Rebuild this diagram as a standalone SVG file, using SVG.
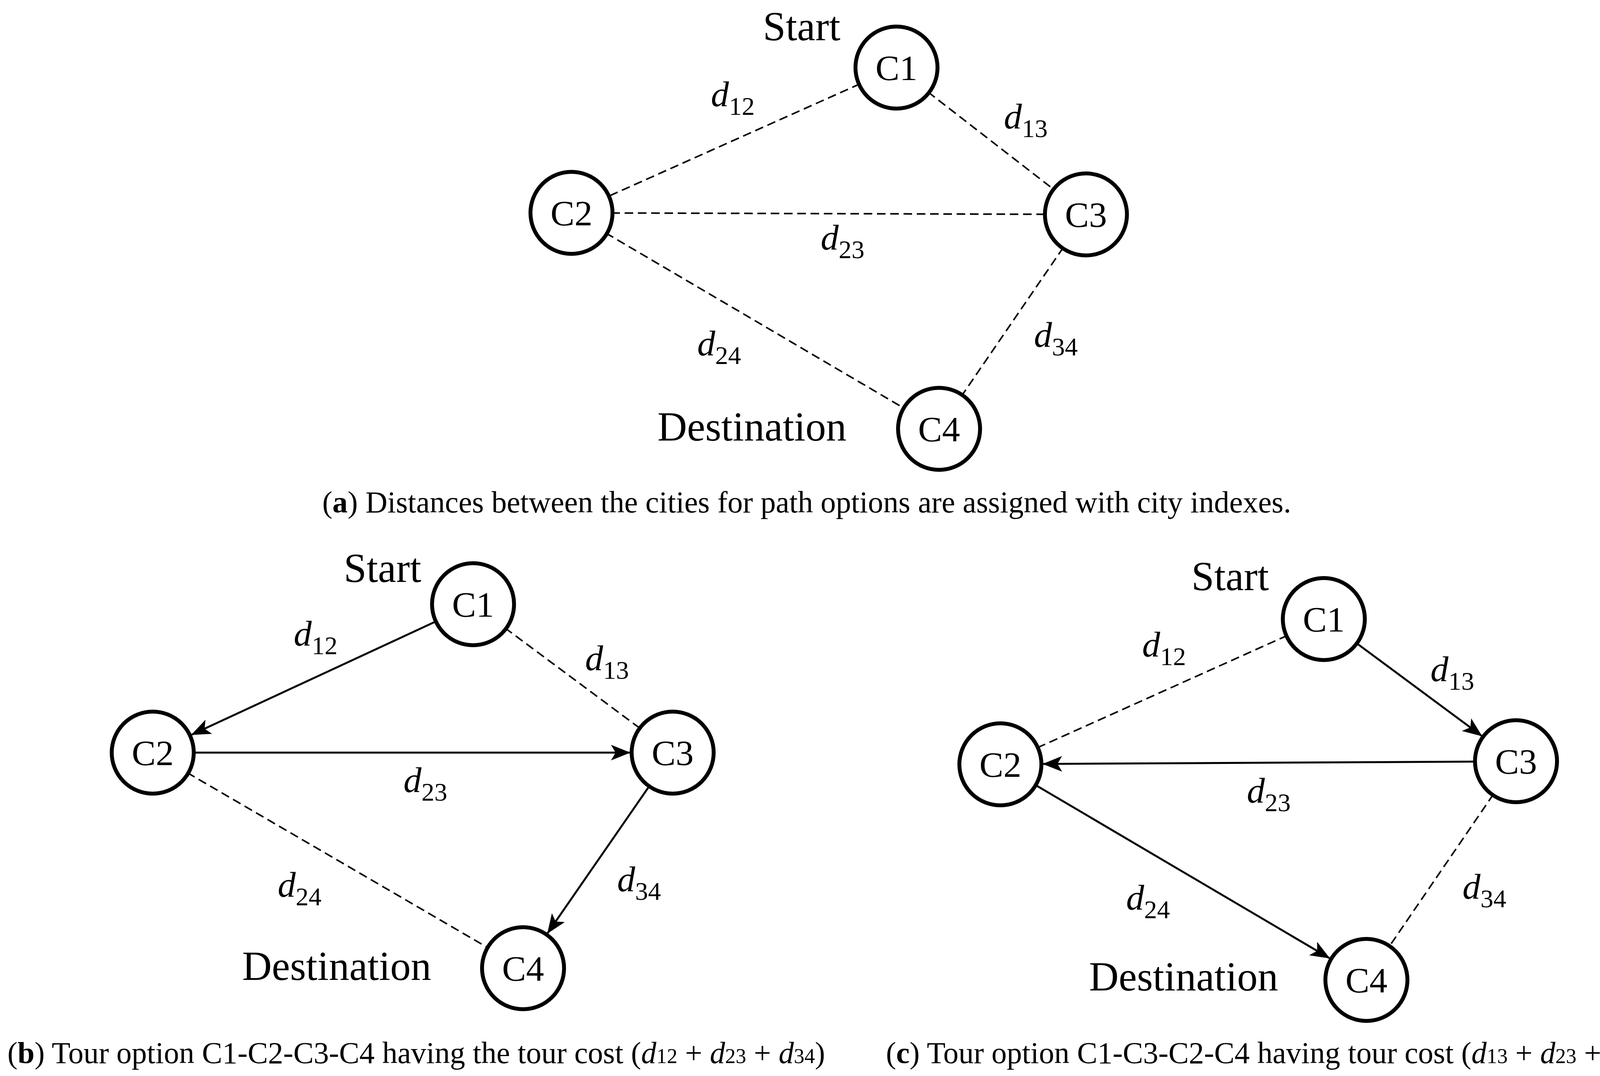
<svg xmlns="http://www.w3.org/2000/svg" width="4271" height="2755" viewBox="0 0 4271 2755">
<style>
.n{fill:#fff;stroke:#000;stroke-width:10}
.nt{font-family:"Liberation Serif",serif;font-size:92px;text-anchor:middle}
.lb{font-family:"Liberation Serif",serif;font-size:105px}
.d{font-family:"Liberation Serif",serif;font-size:92px;font-style:italic}
.s{font-style:normal;font-size:66px}
.cap{font-family:"Liberation Serif",serif;font-size:78px}
.dash{stroke:#000;stroke-width:4;stroke-dasharray:22 12;fill:none}
.sol{stroke:#000;stroke-width:5;fill:none;marker-end:url(#ah)}
</style>
<defs><marker id="ah" markerUnits="userSpaceOnUse" markerWidth="50" markerHeight="40" refX="48" refY="20" orient="auto"><path d="M0,0 L50,20 L0,40 L12,20 Z" fill="#000"/></marker></defs>
<g id="connectors">
<line class="dash" x1="2295" y1="173" x2="1463" y2="545"/>
<line class="dash" x1="2295" y1="173" x2="2780" y2="549"/>
<line class="dash" x1="1463" y1="545" x2="2780" y2="549"/>
<line class="dash" x1="1463" y1="545" x2="2404" y2="1098"/>
<line class="dash" x1="2780" y1="549" x2="2404" y2="1098"/>
<line class="sol" x1="1116" y1="1591" x2="491" y2="1881"/>
<line class="dash" x1="1211" y1="1547" x2="1722" y2="1927"/>
<line class="sol" x1="496" y1="1927" x2="1612" y2="1927"/>
<line class="sol" x1="1662" y1="2013" x2="1402" y2="2389"/>
<line class="dash" x1="391" y1="1927" x2="1339" y2="2479"/>
<line class="dash" x1="3389" y1="1585" x2="2561" y2="1957"/>
<line class="sol" x1="3473" y1="1647" x2="3793" y2="1884"/>
<line class="sol" x1="3776" y1="1950" x2="2671" y2="1956"/>
<line class="sol" x1="2651" y1="2010" x2="3403" y2="2453"/>
<line class="dash" x1="3881" y1="1949" x2="3498" y2="2509"/>
</g>
<g id="a_C1"><circle class="n" cx="2295" cy="173" r="105"/><text class="nt" x="2295" y="205">C1</text></g>
<g id="a_C2"><circle class="n" cx="1463" cy="545" r="105"/><text class="nt" x="1463" y="577">C2</text></g>
<g id="a_C3"><circle class="n" cx="2780" cy="549" r="105"/><text class="nt" x="2780" y="581">C3</text></g>
<g id="a_C4"><circle class="n" cx="2404" cy="1098" r="105"/><text class="nt" x="2404" y="1130">C4</text></g>
<g id="b_C1"><circle class="n" cx="1211" cy="1547" r="105"/><text class="nt" x="1211" y="1579">C1</text></g>
<g id="b_C2"><circle class="n" cx="391" cy="1927" r="105"/><text class="nt" x="391" y="1959">C2</text></g>
<g id="b_C3"><circle class="n" cx="1722" cy="1927" r="105"/><text class="nt" x="1722" y="1959">C3</text></g>
<g id="b_C4"><circle class="n" cx="1339" cy="2479" r="105"/><text class="nt" x="1339" y="2511">C4</text></g>
<g id="c_C1"><circle class="n" cx="3389" cy="1585" r="105"/><text class="nt" x="3389" y="1617">C1</text></g>
<g id="c_C2"><circle class="n" cx="2561" cy="1957" r="105"/><text class="nt" x="2561" y="1989">C2</text></g>
<g id="c_C3"><circle class="n" cx="3881" cy="1949" r="105"/><text class="nt" x="3881" y="1981">C3</text></g>
<g id="c_C4"><circle class="n" cx="3498" cy="2509" r="105"/><text class="nt" x="3498" y="2541">C4</text></g>
<g id="labels">
<text class="lb" x="1953" y="103">Start</text>
<text class="lb" x="1683" y="1128">Destination</text>
<text class="d" x="1820" y="272">d<tspan class="s" dy="22">12</tspan></text>
<text class="d" x="2570" y="329">d<tspan class="s" dy="22">13</tspan></text>
<text class="d" x="2101" y="639">d<tspan class="s" dy="22">23</tspan></text>
<text class="d" x="1785" y="910">d<tspan class="s" dy="22">24</tspan></text>
<text class="d" x="2647" y="888">d<tspan class="s" dy="22">34</tspan></text>
<text class="cap" x="825" y="1312" font-size="80">(<tspan font-weight="bold">a</tspan>) Distances between the cities for path options are assigned with city indexes.</text>
<text class="lb" x="880" y="1490">Start</text>
<text class="lb" x="620" y="2509">Destination</text>
<text class="d" x="752" y="1653">d<tspan class="s" dy="22">12</tspan></text>
<text class="d" x="1498" y="1716">d<tspan class="s" dy="22">13</tspan></text>
<text class="d" x="1033" y="2028">d<tspan class="s" dy="22">23</tspan></text>
<text class="d" x="711" y="2296">d<tspan class="s" dy="22">24</tspan></text>
<text class="d" x="1580" y="2282">d<tspan class="s" dy="22">34</tspan></text>
<text class="cap" x="19" y="2722">(<tspan font-weight="bold">b</tspan>) Tour option C1-C2-C3-C4 having the tour cost (<tspan font-style="italic">d</tspan><tspan font-size="54">12</tspan> + <tspan font-style="italic">d</tspan><tspan font-size="54">23</tspan> + <tspan font-style="italic">d</tspan><tspan font-size="54">34</tspan>)</text>
<text class="lb" x="3050" y="1511">Start</text>
<text class="lb" x="2788" y="2536">Destination</text>
<text class="d" x="2924" y="1681">d<tspan class="s" dy="22">12</tspan></text>
<text class="d" x="3662" y="1744">d<tspan class="s" dy="22">13</tspan></text>
<text class="d" x="3192" y="2055">d<tspan class="s" dy="22">23</tspan></text>
<text class="d" x="2883" y="2329">d<tspan class="s" dy="22">24</tspan></text>
<text class="d" x="3744" y="2301">d<tspan class="s" dy="22">34</tspan></text>
<text class="cap" x="2268" y="2722">(<tspan font-weight="bold">c</tspan>) Tour option C1-C3-C2-C4 having tour cost (<tspan font-style="italic">d</tspan><tspan font-size="54">13</tspan> + <tspan font-style="italic">d</tspan><tspan font-size="54">23</tspan> + <tspan font-style="italic">d</tspan><tspan font-size="54">24</tspan>)</text>
</g>
</svg>
